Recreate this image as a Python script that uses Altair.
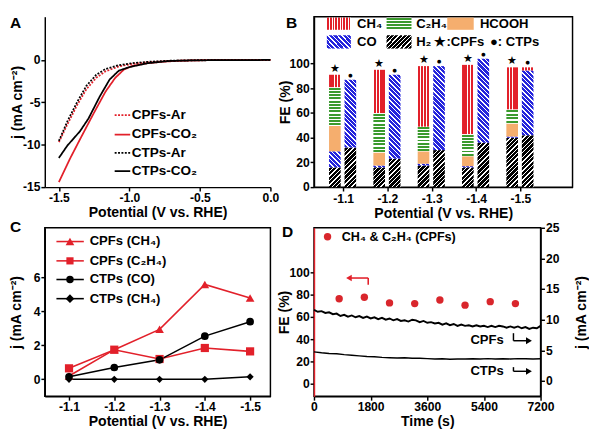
import math
import altair as alt
import pandas as pd

FONT = "Liberation Sans"
RED = "#e2202a"
DOT_RED = "#d9262c"
BLUE = "#2424dc"
GREEN = "#3a9a2d"
ORANGE = "#f5ae6e"
BLACK = "#000000"
WHITE = "#ffffff"
MINUS = "replace(datum.label, '\u2212', '-')"
MINUS1F = "replace(format(datum.value, '.1f'), '\u2212', '-')"

# ---------------- Panel A: LSV curves ----------------
lsv_cpf_ar_v = [-1.5, -1.44, -1.37, -1.305, -1.235, -1.17, -1.075, -0.98, -0.87, -0.71, -0.52, 0.0]
lsv_cpf_ar_j = [-9.7, -7.6, -5.3, -3.45, -2.1, -1.35, -0.76, -0.46, -0.27, -0.11, -0.04, 0.0]
lsv_cpf_co2_v = [-1.5, -1.42, -1.35, -1.26, -1.17, -1.10, -1.04, -0.98, -0.87, -0.75, -0.62, -0.41, 0.0]
lsv_cpf_co2_j = [-14.4, -11.6, -9.35, -6.5, -3.75, -2.1, -1.15, -0.7, -0.38, -0.19, -0.08, 0.0, 0.0]
lsv_ctp_ar_v = [-1.5, -1.44, -1.37, -1.305, -1.235, -1.17, -1.075, -0.98, -0.87, -0.71, -0.52, 0.0]
lsv_ctp_ar_j = [-9.55, -7.25, -4.95, -3.05, -1.75, -1.07, -0.61, -0.38, -0.22, -0.09, -0.03, 0.0]
lsv_ctp_co2_v = [-1.5, -1.44, -1.35, -1.29, -1.21, -1.14, -1.075, -1.0, -0.87, -0.71, -0.52, 0.0]
lsv_ctp_co2_j = [-11.55, -10.1, -8.4, -6.9, -4.3, -2.3, -1.26, -0.84, -0.38, -0.11, -0.04, 0.0]
lsv_series = ["CPFs-Ar", "CPFs-CO\u2082", "CTPs-Ar", "CTPs-CO\u2082"]

# ---------------- Panel B: Faradaic efficiency (%) ----------------
potentials = [-1.1, -1.2, -1.3, -1.4, -1.5]
fe_cpf_h2 = [16, 16, 17.5, 16, 40]
fe_cpf_co = [13, 1.5, 1.5, 1, 1]
fe_cpf_hcooh = [20.5, 10.5, 10, 8, 10.5]
fe_cpf_c2h4 = [31.5, 32, 20, 18, 11.5]
fe_cpf_ch4 = [10, 35, 49, 56, 34]
fe_ctp_h2 = [32, 23, 30, 36, 42]
fe_ctp_co = [55, 68, 68, 68, 52.5]
fe_ctp_ch4 = [0, 0, 0, 0, 2.5]

# ---------------- Panel C: partial current densities ----------------
jp_cpf_ch4 = [0.2, 1.75, 2.95, 5.6, 4.8]
jp_cpf_c2h4 = [0.65, 1.75, 1.2, 1.85, 1.65]
jp_ctp_co = [0.15, 0.7, 1.15, 2.55, 3.4]
jp_ctp_ch4 = [0.0, 0.0, 0.0, 0.0, 0.15]
c_series = ["CPFs (CH\u2084)", "CPFs (C\u2082H\u2084)", "CTPs (CO)", "CTPs (CH\u2084)"]

# ---------------- Panel D: stability ----------------
fe_time = [800, 1600, 2400, 3200, 4000, 4800, 5600, 6400]
fe_c1c2 = [76.4, 77.8, 72.7, 72.1, 75.3, 70.7, 73.8, 72.1]
cpf_t = [0, 120, 240, 360, 480, 600, 720, 840, 960, 1080, 1200, 1320, 1440, 1560, 1680,
         1800, 1920, 2040, 2160, 2280, 2400, 2520, 2640, 2760, 2880, 3000, 3120, 3240,
         3360, 3480, 3600, 3720, 3840, 3960, 4080, 4200, 4320, 4440, 4560, 4680, 4800,
         4920, 5040, 5160, 5280, 5400, 5520, 5640, 5760, 5880, 6000, 6120, 6240, 6360,
         6480, 6600, 6720, 6840, 6960, 7080, 7200]
cpf_j = [11.6, 11.3, 11.4, 11.1, 11.2, 10.9, 11.0, 10.6, 10.8, 10.5, 10.7, 10.4, 10.6, 10.3,
         10.5, 10.2, 10.4, 10.1, 10.3, 10.0, 10.2, 9.9, 10.1, 9.8, 9.9, 9.7, 10.0, 9.9, 9.6,
         9.8, 9.5, 9.6, 9.4, 9.5, 9.2, 9.4, 9.1, 9.3, 9.0, 9.2, 9.0, 9.1, 8.9, 9.1, 8.9, 9.0,
         8.8, 9.0, 8.8, 9.0, 8.9, 8.7, 8.9, 8.7, 8.9, 8.6, 8.8, 8.5, 8.7, 8.6, 9.0]
ctp_t = [0, 240, 480, 720, 960, 1200, 1440, 1680, 1920, 2160, 2400, 2640, 2880, 3120, 3360,
         3600, 3840, 4080, 4320, 4560, 4800, 5040, 5280, 5520, 5760, 6000, 6240, 6480, 6720,
         6960, 7200]
ctp_j = [4.75, 4.6, 4.5, 4.45, 4.3, 4.2, 4.1, 4.0, 3.95, 3.85, 3.8, 3.75, 3.8, 3.7, 3.72,
         3.65, 3.6, 3.62, 3.55, 3.6, 3.58, 3.62, 3.6, 3.65, 3.6, 3.63, 3.6, 3.65, 3.62, 3.6,
         3.62]

# ---------------- layout ----------------
A_W, A_H = 233, 176
B_W, B_H = 267, 176
C_W, C_H = 233, 174
D_W, D_H = 234, 174
DUMMY = pd.DataFrame({"k": [0]})


def stripe_fill(kind, w, h, main, gap, period, frac):
    if kind == "v":
        length = w
        coords = dict(x1=0, y1=0, x2=1, y2=0)
    elif kind == "h":
        length = h
        coords = dict(x1=0, y1=0, x2=0, y2=1)
    else:
        k = (w + h) / (w * w + h * h)
        length = (w + h) / math.sqrt(2)
        if kind == "up":
            coords = dict(x1=0, y1=0, x2=round(k * w, 5), y2=round(k * h, 5))
        else:
            coords = dict(x1=0, y1=1, x2=round(k * w, 5), y2=round(1 - k * h, 5))
    n = max(1, int(round(length / period)))
    g = (1 - frac) / 2
    stops = []
    for i in range(n):
        for off, col in [(i, gap), (i + g, gap), (i + g, main), (i + 1 - g, main),
                         (i + 1 - g, gap), (i + 1, gap)]:
            stops.append({"offset": round(off / n, 5), "color": col})
    return {"gradient": "linear", **coords, "stops": stops}


def product_fill(prod, w, h):
    if prod == "CH4":
        return stripe_fill("v", w, h, RED, WHITE, 3.0, 0.72)
    if prod == "C2H4":
        return stripe_fill("h", w, h, GREEN, WHITE, 3.4, 0.62)
    if prod == "CO":
        return stripe_fill("down", w, h, BLUE, WHITE, 3.3, 0.68)
    if prod == "H2":
        return stripe_fill("up", w, h, BLACK, WHITE, 3.3, 0.7)
    return ORANGE


def dx(v, scale, axis):
    return alt.XDatum(v, type="quantitative", scale=scale, axis=axis)


def dy(v, scale, axis):
    return alt.YDatum(v, type="quantitative", scale=scale, axis=axis)


def panel_label(letter, x, y):
    return alt.Chart(DUMMY).mark_text(
        text=letter, font=FONT, fontSize=16, fontWeight="bold", align="left",
        baseline="middle", color=BLACK
    ).encode(x=alt.value(x), y=alt.value(y))


def txt(size=13.5, align="left"):
    return dict(font=FONT, fontSize=size, fontWeight="bold", align=align, baseline="middle",
                color=BLACK)


# ================= Panel A =================
rowsA = []
for name, vs, js in [(lsv_series[0], lsv_cpf_ar_v, lsv_cpf_ar_j),
                     (lsv_series[1], lsv_cpf_co2_v, lsv_cpf_co2_j),
                     (lsv_series[2], lsv_ctp_ar_v, lsv_ctp_ar_j),
                     (lsv_series[3], lsv_ctp_co2_v, lsv_ctp_co2_j)]:
    for i, (v, j) in enumerate(zip(vs, js)):
        rowsA.append({"series": name, "V": v, "j": j, "i": i})
dfA = pd.DataFrame(rowsA)

xA_scale = alt.Scale(domain=[-1.6, 0.0], nice=False, zero=False)
yA_scale = alt.Scale(domain=[-15, 5.1], nice=False, zero=False)
xA_axis = alt.Axis(values=[-1.5, -1.0, -0.5, 0.0], labelExpr=MINUS1F, title="Potential (V vs. RHE)")
yA_axis = alt.Axis(values=[-15, -10, -5, 0], labelExpr=MINUS, title="j (mA cm\u207b\u00b2)",
                   titlePadding=-2)
xA = alt.X("V:Q", scale=xA_scale, axis=xA_axis)
yA = alt.Y("j:Q", scale=yA_scale, axis=yA_axis)
dash_range = [[2, 1.5], [1, 0], [2, 1.5], [1, 0]]
color_range = [RED, RED, BLACK, BLACK]
linesA = alt.Chart(dfA).mark_line(strokeWidth=1.8).encode(
    x=xA, y=yA, order="i:Q",
    color=alt.Color("series:N", scale=alt.Scale(domain=lsv_series, range=color_range), legend=None),
    strokeDash=alt.StrokeDash("series:N", scale=alt.Scale(domain=lsv_series, range=dash_range), legend=None),
)
a_layers = [linesA]
for k, (name, yv) in enumerate(zip(lsv_series, [-6.5, -8.8, -10.95, -13.1])):
    a_layers.append(alt.Chart(DUMMY).mark_rule(color=color_range[k], strokeWidth=1.8,
                                               strokeDash=dash_range[k]).encode(
        x=dx(-1.1045, xA_scale, xA_axis), x2=alt.X2Datum(-0.994), y=dy(yv, yA_scale, yA_axis)))
    a_layers.append(alt.Chart(DUMMY).mark_text(text=name, **txt(14)).encode(
        x=dx(-0.984, xA_scale, xA_axis), y=dy(yv, yA_scale, yA_axis)))
a_layers.append(panel_label("A", -36, 7))
panelA = alt.layer(*a_layers).properties(width=A_W, height=A_H,
                                         view=alt.ViewBackground(stroke="transparent"))

# ================= Panel B =================
xB_scale = alt.Scale(domain=[-1.0453, -1.6067], nice=False, zero=False)
yB_scale = alt.Scale(domain=[0, 138], nice=False, zero=False)
xB_px = B_W / (1.6067 - 1.0453)
yB_px = B_H / 138.0
xB_axis = alt.Axis(values=potentials, labelExpr=MINUS1F, title="Potential (V vs. RHE)",
                   labelPadding=2, titlePadding=2)
yB_axis = alt.Axis(values=[0, 20, 40, 60, 80, 100], title="FE (%)", titlePadding=-4)
xB = alt.X("pot:Q", scale=xB_scale, axis=xB_axis)
b_layers = []
groups = [
    (-8.5, [("H2", fe_cpf_h2), ("CO", fe_cpf_co), ("HCOOH", fe_cpf_hcooh),
            ("C2H4", fe_cpf_c2h4), ("CH4", fe_cpf_ch4)]),
    (7.5, [("H2", fe_ctp_h2), ("CO", fe_ctp_co), ("CH4", fe_ctp_ch4)]),
]
for offset, prods in groups:
    for k, pot in enumerate(potentials):
        lo = 0.0
        for prod, vals in prods:
            v = vals[k]
            if v <= 0:
                continue
            seg = pd.DataFrame({"pot": [pot], "lo": [lo], "hi": [lo + v]})
            b_layers.append(alt.Chart(seg).mark_bar(
                width=12, xOffset=offset, fill=product_fill(prod, 12, v * yB_px)
            ).encode(x=xB, y=alt.Y("lo:Q", scale=yB_scale, axis=yB_axis), y2="hi:Q"))
            lo += v

tot = pd.DataFrame({
    "pot": potentials,
    "cpf": [sum(t) for t in zip(fe_cpf_h2, fe_cpf_co, fe_cpf_hcooh, fe_cpf_c2h4, fe_cpf_ch4)],
    "ctp": [sum(t) for t in zip(fe_ctp_h2, fe_ctp_co, fe_ctp_ch4)],
})
b_layers.append(alt.Chart(tot).mark_text(text="\u2605", fontSize=11, dx=-8.5, dy=-6, color=BLACK,
                                         baseline="middle").encode(
    x=xB, y=alt.Y("cpf:Q", scale=yB_scale, axis=yB_axis)))
b_layers.append(alt.Chart(tot).mark_text(text="\u25cf", fontSize=9, dx=7.5, dy=-5, color=BLACK,
                                         baseline="middle").encode(
    x=xB, y=alt.Y("ctp:Q", scale=yB_scale, axis=yB_axis)))

# legend of panel B
ROW1_T, ROW2_T = 132.3, 117.6
legB = [
    ("CH4", "CH\u2084", -1.0634, -1.1175, -1.1316, 137.3, 127.4, ROW1_T),
    ("C2H4", "C\u2082H\u2084", -1.1981, -1.2543, -1.2648, 137.3, 127.4, ROW1_T),
    ("HCOOH", "HCOOH", -1.335, -1.3947, -1.4086, 137.3, 127.4, ROW1_T),
    ("CO", "CO", -1.0634, -1.1175, -1.1316, 123.0, 112.2, ROW2_T),
    ("H2", "H\u2082", -1.1981, -1.2543, -1.2648, 123.0, 112.2, ROW2_T),
]
for prod, label, x1, x2, xt, y1, y2, yt in legB:
    w = abs(x2 - x1) * xB_px
    h = abs(y1 - y2) * yB_px
    b_layers.append(alt.Chart(DUMMY).mark_rect(fill=product_fill(prod, w, h)).encode(
        x=dx(x1, xB_scale, xB_axis), x2=alt.X2Datum(x2), y=dy(y1, yB_scale, yB_axis),
        y2=alt.Y2Datum(y2)))
    b_layers.append(alt.Chart(DUMMY).mark_text(text=label, **txt()).encode(
        x=dx(xt, xB_scale, xB_axis), y=dy(yt, yB_scale, yB_axis)))
b_layers.append(alt.Chart(DUMMY).mark_text(text="\u2605:CPFs", **txt()).encode(
    x=dx(-1.306, xB_scale, xB_axis), y=dy(ROW2_T, yB_scale, yB_axis)))
b_layers.append(alt.Chart(DUMMY).mark_text(text="\u25cf: CTPs", **txt()).encode(
    x=dx(-1.4312, xB_scale, xB_axis), y=dy(ROW2_T, yB_scale, yB_axis)))
b_layers.append(panel_label("B", -29, 7))
panelB = alt.layer(*b_layers).properties(width=B_W, height=B_H)

# ================= Panel C =================
rowsC = []
for name, vals in zip(c_series, [jp_cpf_ch4, jp_cpf_c2h4, jp_ctp_co, jp_ctp_ch4]):
    for pot, v in zip(potentials, vals):
        rowsC.append({"series": name, "pot": pot, "j": v})
dfC = pd.DataFrame(rowsC)
xC_scale = alt.Scale(domain=[-1.0465, -1.5449], nice=False, zero=False)
yC_scale = alt.Scale(domain=[-1, 8.94], nice=False, zero=False)
xC_axis = alt.Axis(values=potentials, labelExpr=MINUS1F, title="Potential (V vs. RHE)")
yC_axis = alt.Axis(values=[0, 2, 4, 6], labelExpr=MINUS, title="j (mA cm\u207b\u00b2)",
                   titlePadding=10)
xC = alt.X("pot:Q", scale=xC_scale, axis=xC_axis)
yC = alt.Y("j:Q", scale=yC_scale, axis=yC_axis)
c_colors = [RED, RED, BLACK, BLACK]
c_shapes = ["triangle-up", "square", "circle", "diamond"]
c_sizes = [80, 55, 60, 80]
col_c = alt.Color("series:N", scale=alt.Scale(domain=c_series, range=c_colors), legend=None)
c_layers = [
    alt.Chart(dfC).mark_line(strokeWidth=1.6).encode(x=xC, y=yC, color=col_c),
    alt.Chart(dfC).mark_point(filled=True, opacity=1).encode(
        x=xC, y=yC, color=col_c,
        shape=alt.Shape("series:N", scale=alt.Scale(domain=c_series, range=c_shapes), legend=None),
        size=alt.Size("series:N", scale=alt.Scale(domain=c_series, range=c_sizes), legend=None)),
]
for k, (name, yv) in enumerate(zip(c_series, [8.13, 6.99, 5.89, 4.76])):
    c_layers.append(alt.Chart(DUMMY).mark_rule(color=c_colors[k], strokeWidth=1.6).encode(
        x=dx(-1.0722, xC_scale, xC_axis), x2=alt.X2Datum(-1.1327), y=dy(yv, yC_scale, yC_axis)))
    c_layers.append(alt.Chart(DUMMY).mark_point(shape=c_shapes[k], filled=True, opacity=1,
                                                size=c_sizes[k], color=c_colors[k]).encode(
        x=dx(-1.1021, xC_scale, xC_axis), y=dy(yv, yC_scale, yC_axis)))
    c_layers.append(alt.Chart(DUMMY).mark_text(text=name, **txt()).encode(
        x=dx(-1.1456, xC_scale, xC_axis), y=dy(yv, yC_scale, yC_axis)))
c_layers.append(panel_label("C", -36, -1))
panelC = alt.layer(*c_layers).properties(width=C_W, height=C_H)

# ================= Panel D =================
xD_scale = alt.Scale(domain=[0, 7200], nice=False, zero=False)
yF_scale = alt.Scale(domain=[-11, 140], nice=False, zero=False)
yJ_scale = alt.Scale(domain=[-2.5, 25], nice=False, zero=False)
xD_axis = alt.Axis(values=[0, 1800, 3600, 5400, 7200], format="d", title="Time (s)")
xD = alt.X("t:Q", scale=xD_scale, axis=xD_axis)
yF_axis = alt.Axis(orient="left", values=[0, 20, 40, 60, 80, 100], title="FE (%)",
                   domainColor=RED, titlePadding=-3)
yJ_axis = alt.Axis(orient="right", values=[0, 5, 10, 15, 20, 25], title="j (mA cm\u207b\u00b2)",
                   titleAngle=270, titleBaseline="top", titlePadding=16)

dfFE = pd.DataFrame({"t": fe_time, "fe": fe_c1c2})
dfCPF = pd.DataFrame({"t": cpf_t, "j": cpf_j})
dfCTP = pd.DataFrame({"t": ctp_t, "j": ctp_j})


def fx(v):
    return dx(v, xD_scale, xD_axis)


def fy(v):
    return dy(v, yF_scale, yF_axis)


def jy(v):
    return dy(v, yJ_scale, yJ_axis)


left_layers = [
    alt.Chart(dfFE).mark_circle(size=58, color=DOT_RED, opacity=1).encode(
        x=xD, y=alt.Y("fe:Q", scale=yF_scale, axis=yF_axis)),
    alt.Chart(DUMMY).mark_rule(color=RED, strokeWidth=1.6).encode(
        x=fx(1123), x2=alt.X2Datum(1723), y=fy(95)),
    alt.Chart(DUMMY).mark_rule(color=RED, strokeWidth=1.6).encode(
        x=fx(1723), y=fy(95), y2=alt.Y2Datum(89)),
    alt.Chart(DUMMY).mark_point(shape="triangle-left", filled=True, size=45, color=RED, opacity=1).encode(
        x=fx(1110), y=fy(95)),
    alt.Chart(DUMMY).mark_circle(size=58, color=DOT_RED, opacity=1).encode(
        x=fx(431), y=fy(132)),
    alt.Chart(DUMMY).mark_text(text="CH\u2084 & C\u2082H\u2084 (CPFs)", **txt(13)).encode(
        x=fx(883), y=fy(132)),
]
right_layers = [
    alt.Chart(dfCPF).mark_line(color=BLACK, strokeWidth=2).encode(
        x=xD, y=alt.Y("j:Q", scale=yJ_scale, axis=yJ_axis)),
    alt.Chart(dfCTP).mark_line(color=BLACK, strokeWidth=1.5).encode(
        x=xD, y=alt.Y("j:Q", scale=yJ_scale, axis=yJ_axis)),
]
for label, ytop, yline in [("CPFs", 7.8, 6.57), ("CTPs", 2.26, 1.58)]:
    right_layers += [
        alt.Chart(DUMMY).mark_text(text=label, **txt(13.5, "right")).encode(
            x=fx(6031), y=jy(yline + 0.1)),
        alt.Chart(DUMMY).mark_rule(color=BLACK, strokeWidth=1.5).encode(
            x=fx(6338), y=jy(ytop), y2=alt.Y2Datum(yline)),
        alt.Chart(DUMMY).mark_rule(color=BLACK, strokeWidth=1.5).encode(
            x=fx(6338), x2=alt.X2Datum(6815), y=jy(yline)),
        alt.Chart(DUMMY).mark_point(shape="triangle-right", filled=True, size=50, color=BLACK,
                                    opacity=1).encode(x=fx(6830), y=jy(yline)),
    ]
right_layers.append(panel_label("D", -33, 5))
panelD = alt.layer(alt.layer(*left_layers), alt.layer(*right_layers)).resolve_scale(
    y="independent").properties(width=D_W, height=D_H)

chart = alt.concat(
    panelA, panelB, panelC, panelD, columns=2,
    spacing={"row": 42, "column": 45}, bounds="flush", align="each",
).properties(padding=0, background="white").configure_axis(
    labelFont=FONT, labelFontSize=12.5, labelFontWeight="bold", labelColor=BLACK,
    titleFont=FONT, titleFontSize=14.5, titleFontWeight="bold", titleColor=BLACK,
    domainColor=BLACK, domainWidth=1.5, tickColor=BLACK, tickWidth=1.5, tickSize=4,
    labelPadding=1, grid=False, labelFlush=False, labelOverlap=False, titlePadding=2,
).configure_view(stroke=BLACK, strokeWidth=1.5)

chart.save("out.html", embed_options={"renderer": "svg", "actions": False})
